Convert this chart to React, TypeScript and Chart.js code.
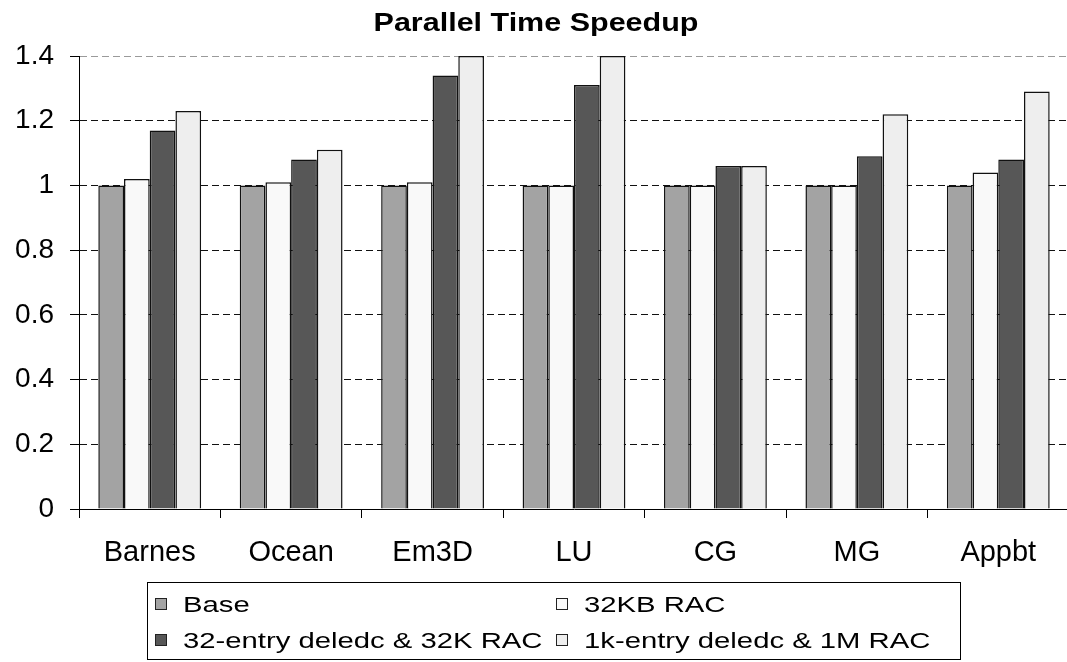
import React, { useEffect, useRef } from "react";
import { Chart, registerables } from "chart.js";

Chart.register(...registerables);

// Benchmarks on the x axis
const categories = ["Barnes", "Ocean", "Em3D", "LU", "CG", "MG", "Appbt"];

// Series names
const seriesNames = [
  "Base",
  "32KB RAC",
  "32-entry deledc & 32K RAC",
  "1k-entry deledc & 1M RAC",
];

// Speedup values per benchmark
const baseValues = [1, 1, 1, 1, 1, 1, 1];
const rac32kbValues = [1.02, 1.01, 1.01, 1.0, 1.0, 1.0, 1.04];
const deledc32Values = [1.17, 1.08, 1.34, 1.31, 1.06, 1.09, 1.08];
const deledc1kValues = [1.23, 1.11, 1.4, 1.4, 1.06, 1.22, 1.29];

// Y axis tick labels (0 .. 1.4 step 0.2)
const yTickLabels = ["0", "0.2", "0.4", "0.6", "0.8", "1", "1.2", "1.4"];

const titleText = "Parallel Time Speedup";

const seriesColors = ["#a3a3a3", "#f9f9f9", "#575757", "#eeeeee"];

const FONT = "'Liberation Sans', Arial, Helvetica, sans-serif";

function stretchedText(
  ctx: CanvasRenderingContext2D,
  text: string,
  x: number,
  y: number,
  sx: number,
  align: CanvasTextAlign
) {
  ctx.save();
  ctx.translate(x, y);
  ctx.scale(sx, 1);
  ctx.textAlign = align;
  ctx.textBaseline = "alphabetic";
  ctx.fillText(text, 0, 0);
  ctx.restore();
}

// Title and boxed two-column legend drawn on the chart canvas
const decorPlugin = {
  id: "decor",
  afterDraw(chart: any) {
    const ctx: CanvasRenderingContext2D = chart.ctx;
    ctx.save();
    ctx.fillStyle = "#000";
    ctx.font = `bold 25px ${FONT}`;
    stretchedText(ctx, titleText, 536, 31, 1.22, "center");

    // legend frame
    ctx.strokeStyle = "#000";
    ctx.lineWidth = 1;
    ctx.strokeRect(147.5, 582.5, 813, 77);

    const colX = [155, 556];
    const rowBase = [612, 648];
    ctx.font = `22px ${FONT}`;
    chart.data.datasets.forEach((ds: any, i: number) => {
      const x = colX[i % 2];
      const b = rowBase[Math.floor(i / 2)];
      ctx.fillStyle = ds.backgroundColor;
      ctx.fillRect(x, b - 14, 12, 12);
      ctx.strokeStyle = "#222";
      ctx.strokeRect(x + 0.5, b - 13.5, 11, 11);
      ctx.fillStyle = "#000";
      stretchedText(ctx, ds.label, x + 28, b, 1.33, "left");
    });
    ctx.restore();
  },
};

export default function App() {
  const canvasRef = useRef<HTMLCanvasElement | null>(null);

  useEffect(() => {
    if (!canvasRef.current) return;
    Chart.defaults.font.family = FONT;
    const valueSets = [baseValues, rac32kbValues, deledc32Values, deledc1kValues];
    const chart = new Chart(canvasRef.current, {
      type: "bar",
      data: {
        labels: categories,
        datasets: seriesNames.map((name, i) => ({
          label: name,
          data: valueSets[i],
          backgroundColor: seriesColors[i],
          borderColor: "#111",
          borderWidth: 1.5,
          categoryPercentage: 0.727,
          barPercentage: 1,
        })),
      },
      options: {
        responsive: false,
        animation: false,
        devicePixelRatio: 1,
        layout: { padding: { top: 56, left: 0, right: 0, bottom: 93 } },
        plugins: {
          legend: { display: false },
          title: { display: false },
          tooltip: { enabled: false },
        },
        scales: {
          x: {
            offset: true,
            afterFit: (scale: any) => {
              scale.height = 60;
            },
            grid: {
              display: true,
              offset: true,
              drawOnChartArea: false,
              drawTicks: true,
              tickLength: 9,
              tickColor: "#000",
            },
            border: { display: true, color: "#000", width: 1 },
            ticks: {
              color: "#000",
              font: { size: 29, family: FONT },
              padding: 18,
              maxRotation: 0,
            },
          },
          y: {
            min: 0,
            max: 1.4,
            afterFit: (scale: any) => {
              scale.width = 79;
            },
            grid: {
              color: (c: any) =>
                c.tick && c.tick.value > 1.39 ? "#9a9a9a" : "#111",
              lineWidth: 1,
              drawTicks: true,
              tickLength: 9,
              tickColor: "#000",
              tickBorderDash: [],
            },
            border: { display: true, color: "#000", width: 1, dash: [7, 4] },
            ticks: {
              stepSize: 0.2,
              color: "#000",
              font: { size: 28, family: FONT },
              padding: 16,
              callback: (_v: any, index: number) => yTickLabels[index],
            },
          },
        },
      },
      plugins: [decorPlugin],
    });
    return () => chart.destroy();
  }, []);

  return (
    <div
      style={{
        position: "fixed",
        left: 0,
        top: 0,
        width: 1067,
        height: 662,
        overflow: "hidden",
        background: "#fff",
      }}
    >
      <canvas ref={canvasRef} width={1069} height={662} />
    </div>
  );
}
